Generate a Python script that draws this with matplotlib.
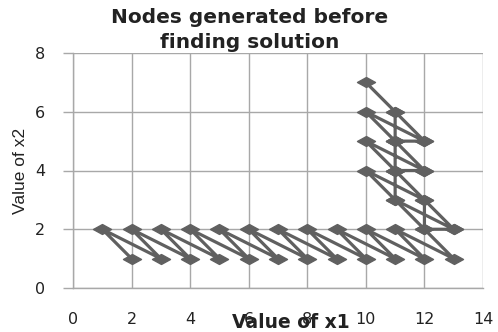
import numpy as np
import matplotlib
matplotlib.use("Agg")
import matplotlib.pyplot as plt
from matplotlib.path import Path

# Node coordinates in drawing order (None = break between strokes)
x1_nodes = [2, 1, 3, 2, 4, 3, 5, 4, 6, 5, 7, 6, 8, 7, 9, 8, 10, 9, 11, 10, 12, 11, 13, 12,
            13, 12, 12, 11, 13, None,
            10, 11, 11, 11, 11, 10, 12, 11, 10, 12, 11, None,
            12, 11, 10, 12, 11, None,
            11, 12]
x2_nodes = [1, 2, 1, 2, 1, 2, 1, 2, 1, 2, 1, 2, 1, 2, 1, 2, 1, 2, 1, 2, 1, 2, 1, 2,
            2, 3, 2, 3, 2, None,
            7, 6, 5, 4, 3, 4, 3, 4, 5, 4, 4, None,
            4, 5, 6, 5, 6, None,
            5, 5]

x_ticks = [0, 2, 4, 6, 8, 10, 12, 14]
y_ticks = [0, 2, 4, 6, 8]

title = "Nodes generated before\nfinding solution"
x_label = "Value of x1"
y_label = "Value of x2"

xs = np.array([np.nan if v is None else v for v in x1_nodes], dtype=float)
ys = np.array([np.nan if v is None else v for v in x2_nodes], dtype=float)

fig = plt.figure(figsize=(4.98, 3.32), dpi=100)
ax = fig.add_axes([73/498, 1-288/332, 410/498, 235/332])

grid_c = "#a8a8a8"
diamond = Path([(-1, 0), (0, 0.55), (1, 0), (0, -0.55), (-1, 0)],
               [Path.MOVETO, Path.LINETO, Path.LINETO, Path.LINETO, Path.CLOSEPOLY])

ax.plot(xs, ys, color="#606060", lw=2.3, marker=diamond, markersize=13,
        markerfacecolor="#606060", markeredgecolor="#606060", zorder=3, clip_on=False)

ax.set_xlim(0, 14)
ax.set_ylim(0, 8)
ax.set_xticks(x_ticks)
ax.set_yticks(y_ticks)
ax.grid(True, color=grid_c, lw=1.0)
ax.set_axisbelow(True)
for s in ["top", "right"]:
    ax.spines[s].set_visible(False)
for s in ["left", "bottom"]:
    ax.spines[s].set_color(grid_c)
    ax.spines[s].set_linewidth(1.0)

ax.tick_params(axis="y", length=7, color=grid_c, width=1.0, pad=13, labelsize=11.5, labelcolor="#222222")
ax.tick_params(axis="x", length=0, pad=17, labelsize=11.5, labelcolor="#222222")

ax.set_xlabel(x_label, fontsize=13.5, fontweight="bold", color="#222222")
ax.xaxis.set_label_coords(0.532, -0.145)
ax.xaxis.label.set_va("center")

ax.set_ylabel(y_label, fontsize=12.5, color="#222222",
              family=["Liberation Sans", "DejaVu Sans"])
ax.yaxis.set_label_coords(-0.128, 0.5)
ax.yaxis.label.set_va("center")

fig.text(0.502, 1-30/332, title, ha="center", va="center", fontsize=14.5,
         fontweight="bold", color="#222222", linespacing=1.35, zorder=5,
         bbox=dict(facecolor="white", edgecolor="none", pad=0))

fig.savefig("out.png", dpi=100)
